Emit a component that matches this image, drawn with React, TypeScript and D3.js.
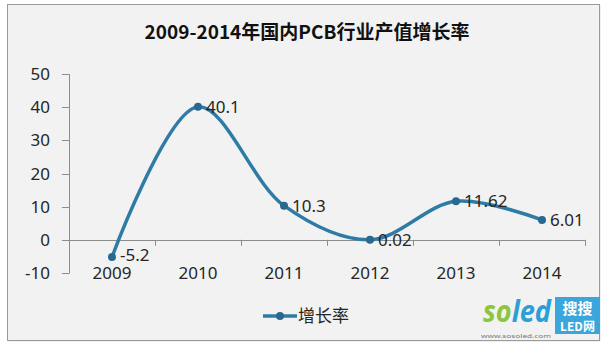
import React from "react";
import * as d3 from "d3";

const years = ["2009", "2010", "2011", "2012", "2013", "2014"];
const growth = [-5.2, 40.1, 10.3, 0.02, 11.62, 6.01];
const valueLabels = ["-5.2", "40.1", "10.3", "0.02", "11.62", "6.01"];
const yTicks = [-10, 0, 10, 20, 30, 40, 50];
const title = "2009-2014年国内PCB行业产值增长率";
const seriesName = "增长率";

const W = 614;
const H = 356;
const LINE = "#2e7ba6";
const MARK = "#2a6890";
const TXT = "#262626";
const FONT = "'Noto Sans', 'Noto Sans CJK SC', sans-serif";

export default function App() {
  const x = d3.scaleBand<string>().domain(years).range([69, 585]);
  const y = d3.scaleLinear().domain([-10, 50]).range([273, 74]);
  const cx = (d: string) => (x(d) ?? 0) + x.bandwidth() / 2;
  const pts: [number, number][] = years.map((d, i) => [cx(d), y(growth[i])]);
  const line = d3.line().curve(d3.curveCatmullRom.alpha(0.5))(pts) ?? "";
  const y0 = y(0);

  return (
    <svg
      width={W}
      height={H}
      style={{ position: "absolute", left: 0, top: 0, display: "block" }}
      fontFamily={FONT}
    >
      <rect x={0} y={0} width={W} height={H} fill="#ffffff" />
      <rect x={8.5} y={5.5} width={592} height={336} fill="#000" opacity={0.12} />
      <rect x={7.5} y={4.5} width={592} height={336} fill="#f2f2f2" stroke="#9a9a9a" strokeWidth={1} />

      <text x={307} y={39} textAnchor="middle" fontSize={19} fontWeight="bold" fill="#111" fontFamily="'Noto Sans CJK SC', sans-serif">
        {title}
      </text>

      {/* y axis */}
      <line x1={69.5} x2={69.5} y1={y(50)} y2={y(-10)} stroke="#8c8c8c" strokeWidth={1} />
      {yTicks.map((t) => (
        <g key={t}>
          <line x1={62} x2={69.5} y1={Math.round(y(t)) + 0.5} y2={Math.round(y(t)) + 0.5} stroke="#8c8c8c" />
          <text x={50} y={y(t) + 6} textAnchor="end" fontSize={17} fill={TXT}>
            {t}
          </text>
        </g>
      ))}

      {/* x axis at 0 */}
      <line x1={62} x2={585} y1={Math.round(y0) + 0.5} y2={Math.round(y0) + 0.5} stroke="#8c8c8c" />
      {years.map((d) => (
        <line
          key={"t" + d}
          x1={Math.round((x(d) ?? 0) + x.bandwidth()) + 0.5}
          x2={Math.round((x(d) ?? 0) + x.bandwidth()) + 0.5}
          y1={y0}
          y2={y0 + 6}
          stroke="#8c8c8c"
        />
      ))}
      {years.map((d) => (
        <text key={"l" + d} x={cx(d)} y={279} textAnchor="middle" fontSize={17} fill={TXT}>
          {d}
        </text>
      ))}

      {/* series */}
      <path d={line} fill="none" stroke={LINE} strokeWidth={3.5} strokeLinecap="round" />
      {pts.map((p, i) => (
        <circle key={"c" + i} cx={p[0]} cy={p[1]} r={4} fill={MARK} />
      ))}
      {pts.map((p, i) => (
        <text key={"v" + i} x={p[0] + 8} y={p[1] + (i === 0 ? 4 : 6)} fontSize={17} fill={TXT}>
          {valueLabels[i]}
        </text>
      ))}

      {/* legend */}
      <line x1={263} x2={297} y1={316} y2={316} stroke={LINE} strokeWidth={3.5} />
      <circle cx={280} cy={316} r={4} fill={MARK} />
      <text x={298} y={322} fontSize={17} fill={TXT} fontFamily="'Noto Sans CJK SC', sans-serif">
        {seriesName}
      </text>

      {/* soled logo */}
      <text
        x={483}
        y={322}
        fontSize={30}
        fontWeight="bold"
        fontStyle="italic"
        fontFamily="'Open Sans', sans-serif"
        textLength={68}
        lengthAdjust="spacingAndGlyphs"
      >
        <tspan fill="#8cc63f">so</tspan>
        <tspan fill="#2a9fd8">led</tspan>
      </text>
      <text x={481} y={338} fontSize={6} fill="#777" textLength={70} lengthAdjust="spacingAndGlyphs">
        www.sosoled.com
      </text>
      <rect x={555} y={297} width={45} height={37} fill="#3aa6dc" />
      <text x={577.5} y={314} textAnchor="middle" fontSize={15} fontWeight="bold" fill="#fff" fontFamily="'Noto Sans CJK SC', sans-serif">
        搜搜
      </text>
      <text x={577.5} y={331} textAnchor="middle" fontSize={12} fontWeight="bold" fill="#fff" fontFamily="'Noto Sans CJK SC', sans-serif">
        LED网
      </text>
    </svg>
  );
}
